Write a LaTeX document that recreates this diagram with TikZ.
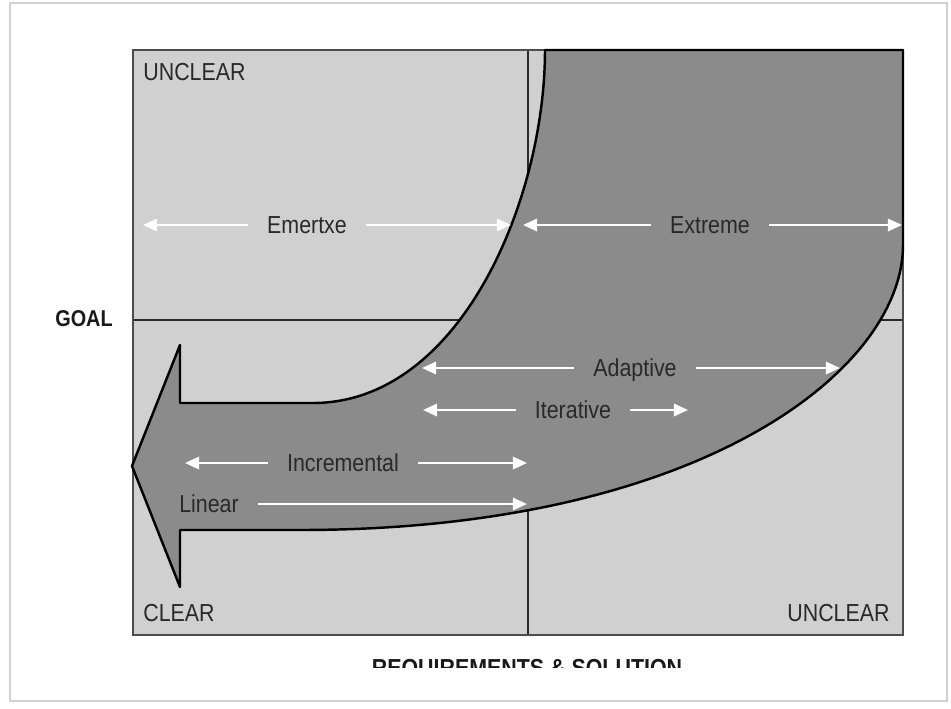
\documentclass[tikz,border=0pt]{standalone}
\usepackage{fontspec}
\setmainfont{Liberation Sans}[FakeStretch=0.87]
\usetikzlibrary{arrows.meta}
\definecolor{PaleClr}{gray}{0.815}
\definecolor{BandClr}{gray}{0.545}
\definecolor{InkClr}{gray}{0.16}
\definecolor{FrameClr}{gray}{0.82}

\begin{document}
\begin{tikzpicture}[x=0.02cm,y=-0.02cm,
  lbl/.style={font=\fontsize{14}{16}\selectfont,text=InkClr,inner sep=0pt,
    outer xsep=11pt,text height=10pt,text depth=0pt},
  corner/.style={font=\fontsize{14}{16}\selectfont,text=InkClr,inner sep=0pt},
  axis/.style={font=\bfseries\fontsize{13}{15}\selectfont,text=black!90,inner sep=0pt},
  flow/.style={draw=white,line width=1.4pt,-{Triangle[length=8pt,width=7pt]}}]
\useasboundingbox (0,0) rectangle (951,708);
\draw[FrameClr,line width=1.2pt] (10,3) rectangle (947,701);

% quadrants
\fill[PaleClr] (133,50) rectangle (903,635);
\draw[InkClr,line width=0.8pt] (528,50) -- (528,635) (133,320) -- (903,320);
\draw[gray!60!black,line width=1.2pt] (133,50) rectangle (903,635);

% the bent band
\filldraw[fill=BandClr,draw=black,line width=1.4pt,line join=round]
  (545,50) -- (903,50) -- (903,245) .. controls (903,370) and (700,530) .. (300,530)
  -- (180,530) -- (180,587) -- (132,466) -- (180,345) -- (180,403) -- (313,403)
  .. controls (460,403) and (545,200) .. (545,50) -- cycle;

% corners and axes
\node[corner,anchor=north west] (ulTop) at (143,63) {UNCLEAR};
\node[corner,anchor=south west] (clr) at (143,622) {CLEAR};
\node[corner,anchor=south east] (ulBot) at (890,622) {UNCLEAR};
\node[axis] (goal) at (84,319) {GOAL};
\begin{scope}
\clip (300,645) rectangle (760,667);
\node[axis,font=\bfseries\fontsize{14}{16}\selectfont,anchor=base] (req) at (527,676) {REQUIREMENTS \& SOLUTION};
\end{scope}

% method ranges
\coordinate (emxL) at (143,225);
\coordinate (emxR) at (511,225);
\coordinate (extL) at (523,225);
\coordinate (extR) at (902,225);
\coordinate (adpL) at (422,368);
\coordinate (adpR) at (840,368);
\coordinate (itrL) at (423,410);
\coordinate (itrR) at (688,410);
\coordinate (incL) at (185,463);
\coordinate (incR) at (527,463);
\coordinate (linR) at (527,504);

\node[lbl] (emx) at (307,225) {Emertxe};
\node[lbl] (ext) at (710,225) {Extreme};
\node[lbl] (adp) at (635,368) {Adaptive};
\node[lbl] (itr) at (573,410) {Iterative};
\node[lbl] (inc) at (343,463) {Incremental};
\node[lbl] (lin) at (209,504) {Linear};

\draw[flow] (emx) -- (emxL);
\draw[flow] (emx) -- (emxR);
\draw[flow] (ext) -- (extL);
\draw[flow] (ext) -- (extR);
\draw[flow] (adp) -- (adpL);
\draw[flow] (adp) -- (adpR);
\draw[flow] (itr) -- (itrL);
\draw[flow] (itr) -- (itrR);
\draw[flow] (inc) -- (incL);
\draw[flow] (inc) -- (incR);
\draw[flow] (lin) -- (linR);
\end{tikzpicture}
\end{document}
